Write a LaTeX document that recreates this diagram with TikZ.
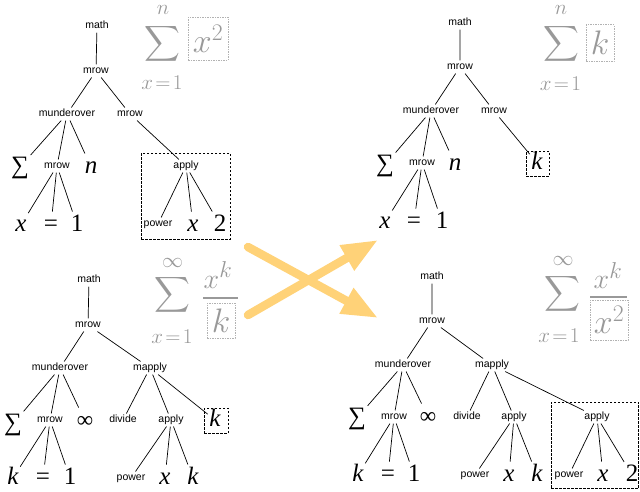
\RequirePackage{fix-cm}
\documentclass[tikz,border=0pt]{standalone}
\usepackage{exscale}
\usepackage{fontspec}
\setsansfont{Liberation Sans}
\newfontfamily\leaffont{Liberation Serif}
\usetikzlibrary{arrows.meta}
\definecolor{ghost}{gray}{0.6}
\definecolor{ghostline}{gray}{0.7}
\definecolor{arrowgold}{RGB}{255,210,120}

\begin{document}
\begin{tikzpicture}[x=1pt, y=-1pt,
    tag/.style={font=\sffamily\fontsize{10.5}{12}\selectfont, inner sep=1.5pt, text height=7.5pt, text depth=2.2pt},
    leaf/.style={font=\leaffont\fontsize{25}{30}\selectfont, inner sep=1.5pt, text height=18.5pt, text depth=5pt},
    var/.style={leaf, font=\leaffont\itshape\fontsize{25}{30}\selectfont},
    infty/.style={leaf, font=\leaffont\fontsize{23}{27}\selectfont},
    frame/.style={draw, line width=0.8pt, dash pattern=on 2.5pt off 1.5pt},
    faint/.style={text=ghost, inner sep=0pt},
    bigsum/.style={faint, font=\fontsize{31}{31}\selectfont},
    limit/.style={faint, font=\fontsize{21}{21}\selectfont},
    hint/.style={draw=ghostline, line width=0.7pt, dash pattern=on 1.5pt off 1pt, text=ghost, inner sep=0pt, font=\fontsize{34}{34}\selectfont},
    numer/.style={faint, font=\fontsize{28}{28}\selectfont},
    link/.style={line width=0.7pt},
    cross/.style={draw=arrowgold, line width=8.5pt, line cap=round, -{Triangle[length=36pt, width=27pt]}}]
    \useasboundingbox (0,0) rectangle (640,491);

    % Tree: sum of x^2
    \node[tag] (a-math) at (97,26) {math};
    \node[tag] (a-mrow) at (96,71) {mrow};
    \node[tag] (a-uo) at (67,114) {munderover};
    \node[tag] (a-row) at (130,114) {mrow};
    \node[leaf] (a-sum) at (20,167) {∑};
    \node[tag] (a-mrow3) at (57,166) {mrow};
    \node[var] (a-n) at (91,167) {n};
    \node[tag] (a-apply) at (186,166) {apply};
    \node[var] (a-x) at (21,225) {x};
    \node[leaf] (a-eq) at (51,225) {=};
    \node[leaf] (a-one) at (77,225) {1};
    \node[tag] (a-pow) at (158,224) {power};
    \node[var] (a-xx) at (193,225) {x};
    \node[leaf] (a-two) at (220,225) {2};
    \node[frame, minimum width=89pt, minimum height=86pt] (a-frame) at (185.5,196) {};
    \draw[link] (a-math) -- (a-mrow) (a-mrow) -- (a-uo) (a-mrow) -- (a-row);
    \draw[link] (a-uo) -- (a-sum) (a-uo) -- (a-mrow3) (a-uo) -- (a-n);
    \draw[link] (a-mrow3) -- (a-x) (a-mrow3) -- (a-eq) (a-mrow3) -- (a-one);
    \draw[link] (a-row) -- (a-apply) (a-apply) -- (a-pow) (a-apply) -- (a-xx) (a-apply) -- (a-two);

    % Formula: sum of x^2
    \node[bigsum] (fa-sum) at (162.5,43.5) {$\displaystyle\sum$};
    \node[limit] (fa-top) at (163,10) {$n$};
    \node[limit] (fa-bot) at (162,83) {$x\mkern2mu{=}\mkern2mu1$};
    \node[hint, minimum width=40pt, minimum height=43pt] (fa-term) at (208,38.5) {$x^2$};

    % Tree: sum of k
    \node[tag] (b-math) at (460,23) {math};
    \node[tag] (b-mrow) at (460,67) {mrow};
    \node[tag] (b-uo) at (431,111) {munderover};
    \node[tag] (b-row) at (494,111) {mrow};
    \node[leaf] (b-sum) at (385,165) {∑};
    \node[tag] (b-mrow3) at (422,163) {mrow};
    \node[var] (b-n) at (455,164) {n};
    \node[var] (b-k) at (537,163) {k};
    \node[frame, minimum width=23pt, minimum height=25pt] (b-frame) at (537.5,163.5) {};
    \node[var] (b-x) at (385,222) {x};
    \node[leaf] (b-eq) at (414,222) {=};
    \node[leaf] (b-one) at (442,222) {1};
    \draw[link] (b-math) -- (b-mrow) (b-mrow) -- (b-uo) (b-mrow) -- (b-row);
    \draw[link] (b-uo) -- (b-sum) (b-uo) -- (b-mrow3) (b-uo) -- (b-n);
    \draw[link] (b-mrow3) -- (b-x) (b-mrow3) -- (b-eq) (b-mrow3) -- (b-one);
    \draw[link] (b-row) -- (b-k);

    % Formula: sum of k
    \node[bigsum] (fb-sum) at (561,43.5) {$\displaystyle\sum$};
    \node[limit] (fb-top) at (561,10) {$n$};
    \node[limit] (fb-bot) at (560.5,84) {$x\mkern2mu{=}\mkern2mu1$};
    \node[hint, minimum width=28pt, minimum height=37pt] (fb-term) at (600,43) {$k$};

    % Tree: sum of x^k / k
    \node[tag] (c-math) at (89,280) {math};
    \node[tag] (c-mrow) at (88,325) {mrow};
    \node[tag] (c-uo) at (60,368) {munderover};
    \node[tag] (c-map) at (150,368) {mapply};
    \node[leaf] (c-sum) at (13,424) {∑};
    \node[tag] (c-mrow3) at (50,420) {mrow};
    \node[infty] (c-inf) at (85,421) {∞};
    \node[tag] (c-div) at (123,420) {divide};
    \node[tag] (c-apply) at (171,420) {apply};
    \node[var] (c-k) at (215,420) {k};
    \node[frame, minimum width=24pt, minimum height=25pt] (c-frame) at (216,420.5) {};
    \node[var] (c-kk) at (13,478) {k};
    \node[leaf] (c-eq) at (43,478) {=};
    \node[leaf] (c-one) at (70,478) {1};
    \node[tag] (c-pow) at (131,478) {power};
    \node[var] (c-x) at (165,478) {x};
    \node[var] (c-k2) at (193,478) {k};
    \draw[link] (c-math) -- (c-mrow) (c-mrow) -- (c-uo) (c-mrow) -- (c-map);
    \draw[link] (c-uo) -- (c-sum) (c-uo) -- (c-mrow3) (c-uo) -- (c-inf);
    \draw[link] (c-mrow3) -- (c-kk) (c-mrow3) -- (c-eq) (c-mrow3) -- (c-one);
    \draw[link] (c-map) -- (c-div) (c-map) -- (c-apply) (c-map) -- (c-k);
    \draw[link] (c-apply) -- (c-pow) (c-apply) -- (c-x) (c-apply) -- (c-k2);

    % Formula: sum of x^k / k
    \node[bigsum] (fc-sum) at (172.5,295) {$\displaystyle\sum$};
    \node[limit] (fc-top) at (172.5,262.5) {$\infty$};
    \node[limit] (fc-bot) at (172,336.5) {$x\mkern2mu{=}\mkern2mu1$};
    \node[numer] (fc-num) at (218,275) {$x^{\hbox{\fontsize{23}{23}\selectfont$k$}}$};
    \draw[ghost, line width=1.1pt] (203,298) -- (238,298);
    \node[hint, minimum width=28pt, minimum height=35pt] (fc-den) at (221,320.5) {$k$};

    % Tree: sum of x^k / x^2
    \node[tag] (d-math) at (432,277) {math};
    \node[tag] (d-mrow) at (432,321) {mrow};
    \node[tag] (d-uo) at (403,365) {munderover};
    \node[tag] (d-map) at (492,365) {mapply};
    \node[leaf] (d-sum) at (357,418) {∑};
    \node[tag] (d-mrow3) at (394,417) {mrow};
    \node[infty] (d-inf) at (428,417) {∞};
    \node[tag] (d-div) at (467,417) {divide};
    \node[tag] (d-apply) at (514,417) {apply};
    \node[tag] (d-apply2) at (597,417) {apply};
    \node[var] (d-k) at (358,475) {k};
    \node[leaf] (d-eq) at (388,475) {=};
    \node[leaf] (d-one) at (414,475) {1};
    \node[tag] (d-pow) at (475,475) {power};
    \node[var] (d-x) at (509,475) {x};
    \node[var] (d-k2) at (537,475) {k};
    \node[tag] (d-pow2) at (569,475) {power};
    \node[var] (d-x2) at (603,475) {x};
    \node[leaf] (d-two) at (632,475) {2};
    \node[frame, minimum width=87.5pt, minimum height=86pt] (d-frame) at (594.75,445) {};
    \draw[link] (d-math) -- (d-mrow) (d-mrow) -- (d-uo) (d-mrow) -- (d-map);
    \draw[link] (d-uo) -- (d-sum) (d-uo) -- (d-mrow3) (d-uo) -- (d-inf);
    \draw[link] (d-mrow3) -- (d-k) (d-mrow3) -- (d-eq) (d-mrow3) -- (d-one);
    \draw[link] (d-map) -- (d-div) (d-map) -- (d-apply) (d-map) -- (d-apply2);
    \draw[link] (d-apply) -- (d-pow) (d-apply) -- (d-x) (d-apply) -- (d-k2);
    \draw[link] (d-apply2) -- (d-pow2) (d-apply2) -- (d-x2) (d-apply2) -- (d-two);

    % Formula: sum of x^k / x^2
    \node[bigsum] (fd-sum) at (562.5,293.5) {$\displaystyle\sum$};
    \node[limit] (fd-top) at (563,261) {$\infty$};
    \node[limit] (fd-bot) at (559,336) {$x\mkern2mu{=}\mkern2mu1$};
    \node[numer] (fd-num) at (608,275.5) {$x^{\hbox{\fontsize{23}{23}\selectfont$k$}}$};
    \draw[ghost, line width=1.1pt] (590,297) -- (627,297);
    \node[hint, minimum width=38pt, minimum height=40pt] (fd-den) at (609,320) {$x^2$};

    % Swap arrows
    \coordinate (s1) at (248,247);
    \coordinate (t1) at (378,318);
    \coordinate (s2) at (248,315);
    \coordinate (t2) at (378,240);
    \draw[cross] (s1) -- (t1);
    \draw[cross] (s2) -- (t2);
\end{tikzpicture}
\end{document}
